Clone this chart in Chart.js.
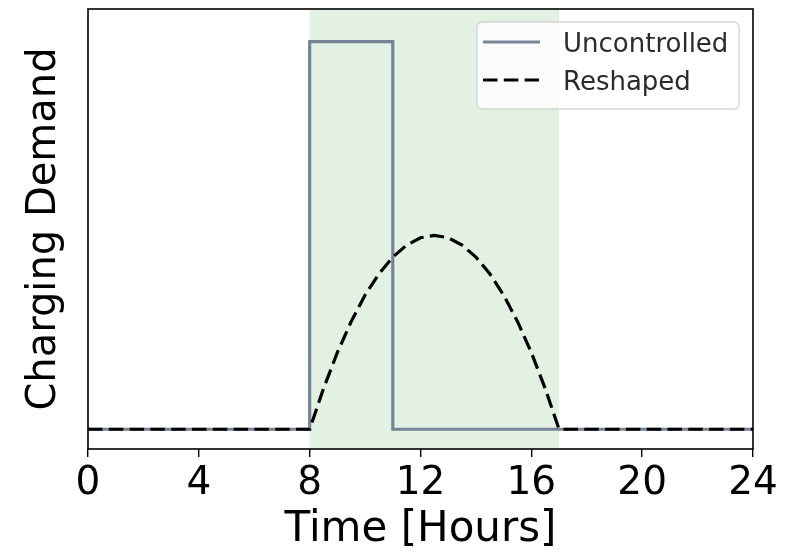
<!DOCTYPE html>
<html>
<head>
<meta charset="utf-8">
<script src="https://cdn.jsdelivr.net/npm/chart.js@4.4.1/dist/chart.umd.min.js"></script>
<style>
  html, body { margin: 0; padding: 0; background: #fff; }
  #wrap { width: 805px; height: 553px; }
</style>
</head>
<body>
<div id="wrap"><canvas id="myChart" width="805" height="553"></canvas></div>
<script>
// data
const uncontrolledX = [0, 8, 8, 11, 11, 24]
const uncontrolledY = [0, 0, 1, 1, 0, 0]

const reshapedX = [0, 8, 8.5, 9, 9.5, 10, 10.5, 11, 11.5, 12, 12.5, 13, 13.5, 14, 14.5, 15, 15.5, 16, 16.5, 17, 24]
const reshapedY = [0, 0, 0.105, 0.198, 0.278, 0.346, 0.401, 0.444, 0.475, 0.494, 0.5, 0.494, 0.475, 0.444, 0.401, 0.346, 0.278, 0.198, 0.105, 0, 0]

const shadeRange = [8, 17]
const xTicks = [0, 4, 8, 12, 16, 20, 24]

const FONT = "'DejaVu Sans', sans-serif"

const toPoints = (xs, ys) => xs.map((x, i) => ({ x: x, y: ys[i] }))

const shadePlugin = {
  id: 'shade',
  beforeDatasetsDraw(chart) {
    const { ctx, chartArea, scales } = chart
    const x0 = scales.x.getPixelForValue(shadeRange[0])
    const x1 = scales.x.getPixelForValue(shadeRange[1])
    ctx.save()
    ctx.fillStyle = 'rgba(0, 128, 0, 0.11)'
    ctx.fillRect(x0, chartArea.top, x1 - x0, chartArea.bottom - chartArea.top)
    ctx.restore()
  }
}

const framePlugin = {
  id: 'frame',
  afterDatasetsDraw(chart) {
    const { ctx, chartArea } = chart
    ctx.save()
    ctx.strokeStyle = '#000'
    ctx.lineWidth = 1.6
    ctx.strokeRect(chartArea.left, chartArea.top, chartArea.right - chartArea.left, chartArea.bottom - chartArea.top)

    // legend box, upper right
    const w = 262, h = 87
    const bx = chartArea.right - 14 - w
    const by = chartArea.top + 13
    ctx.beginPath()
    ctx.roundRect(bx, by, w, h, 5)
    ctx.fillStyle = 'rgba(255, 255, 255, 0.8)'
    ctx.fill()
    ctx.strokeStyle = 'rgba(204, 204, 204, 0.8)'
    ctx.lineWidth = 1.3
    ctx.stroke()

    ctx.font = '26px ' + FONT
    ctx.textBaseline = 'alphabetic'
    ctx.textAlign = 'left'
    chart.data.datasets.forEach((ds, i) => {
      const ly = by + 20 + i * 38
      ctx.beginPath()
      ctx.setLineDash(ds.borderDash || [])
      ctx.strokeStyle = ds.borderColor
      ctx.lineWidth = ds.borderWidth
      ctx.moveTo(bx + 6, ly)
      ctx.lineTo(bx + 63, ly)
      ctx.stroke()
      ctx.setLineDash([])
      ctx.fillStyle = '#2b2b2b'
      ctx.fillText(ds.label, bx + 86, ly + 10)
    })
    ctx.restore()
  }
}

const config = {
  type: 'line',
  data: {
    datasets: [
      {
        label: 'Uncontrolled',
        data: toPoints(uncontrolledX, uncontrolledY),
        borderColor: 'rgb(118, 132, 150)',
        borderWidth: 3.2,
        pointRadius: 0,
        tension: 0,
        order: 2
      },
      {
        label: 'Reshaped',
        data: toPoints(reshapedX, reshapedY),
        borderColor: '#000',
        borderWidth: 3.2,
        borderDash: [14.5, 6.3],
        pointRadius: 0,
        tension: 0,
        order: 1
      }
    ]
  },
  options: {
    responsive: false,
    animation: false,
    layout: { padding: { top: 9, right: 52, left: 0, bottom: 0 } },
    plugins: { legend: { display: false }, tooltip: { enabled: false } },
    scales: {
      x: {
        type: 'linear',
        min: 0,
        max: 24,
        afterFit: (scale) => { scale.height = 104 },
        afterBuildTicks: (scale) => { scale.ticks = xTicks.map(v => ({ value: v })) },
        border: { display: false },
        grid: { drawOnChartArea: false, drawTicks: true, tickLength: 8, color: '#000', lineWidth: 1.4 },
        ticks: { color: '#000', padding: 3, font: { size: 39, family: FONT } },
        title: {
          display: true,
          text: 'Time [Hours]',
          color: '#000',
          font: { size: 42, family: FONT, lineHeight: 1 },
          padding: { top: 0, bottom: 2 }
        }
      },
      y: {
        min: -0.051,
        max: 1.084,
        afterFit: (scale) => { scale.width = 88 },
        border: { display: false },
        grid: { display: false },
        ticks: { display: false },
        title: {
          display: true,
          text: 'Charging Demand',
          color: '#000',
          font: { size: 40, family: FONT, lineHeight: 1 },
          padding: { top: 25, bottom: 0 }
        }
      }
    }
  },
  plugins: [shadePlugin, framePlugin]
}

new Chart(document.getElementById('myChart'), config)
</script>
</body>
</html>
